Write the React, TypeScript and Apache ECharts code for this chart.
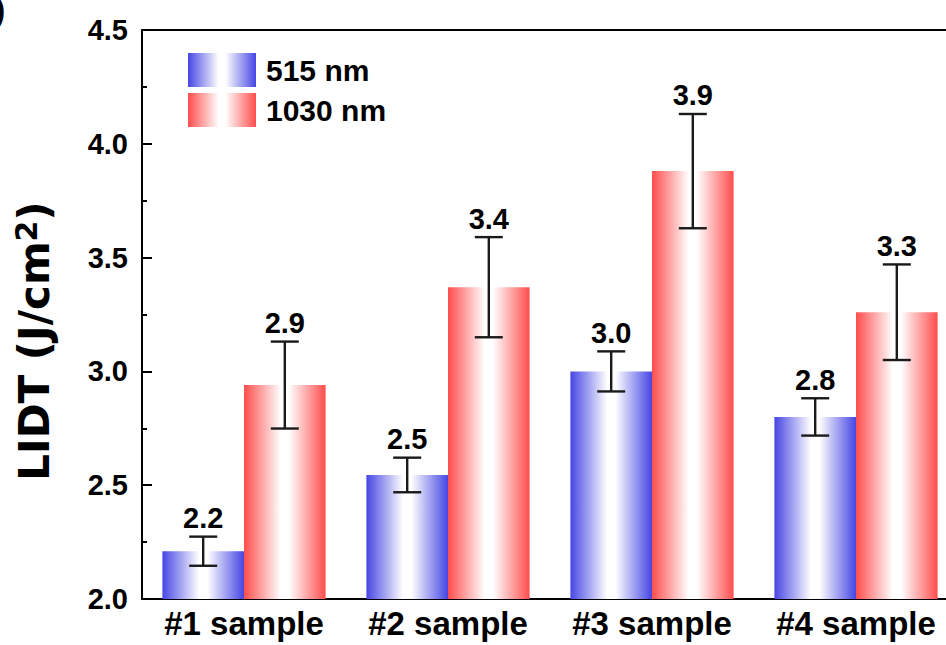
import React, { useEffect, useRef } from "react";
import * as echarts from "echarts";

const categories = ["#1 sample", "#2 sample", "#3 sample", "#4 sample"];
const lidt515 = [2.21, 2.545, 3.0, 2.8];
const err515 = [0.064, 0.076, 0.088, 0.082];
const lidt1030 = [2.94, 3.37, 3.88, 3.26];
const err1030 = [0.191, 0.22, 0.251, 0.21];
const seriesNames = ["515 nm", "1030 nm"];
const yTicks = { min: 2.0, max: 4.5, step: 0.5 };

const FONT = "'Liberation Sans', Arial, sans-serif";

const grad = (edge: string) =>
  new echarts.graphic.LinearGradient(0, 0, 1, 0, [
    { offset: 0, color: edge },
    { offset: 0.45, color: "#ffffff" },
    { offset: 0.55, color: "#ffffff" },
    { offset: 1, color: edge },
  ]);

const errSeries = (vals: number[], errs: number[], side: number) => ({
  type: "custom",
  xAxisIndex: 0,
  yAxisIndex: 0,
  z: 5,
  data: vals.map((v, i) => [i, v - errs[i], v + errs[i], side]),
  renderItem: (params: any, api: any) => {
    const ci = api.value(0);
    const low = api.value(1);
    const high = api.value(2);
    const s = api.value(3);
    const band = api.size([1, 0])[0];
    const top = api.coord([ci, high]);
    const bot = api.coord([ci, low]);
    const x = top[0] + s * band * 0.2;
    const cap = 14;
    const st = { stroke: "#1a1a1a", lineWidth: 2.4 };
    return {
      type: "group",
      children: [
        { type: "line", shape: { x1: x, y1: top[1], x2: x, y2: bot[1] }, style: st },
        { type: "line", shape: { x1: x - cap, y1: top[1], x2: x + cap, y2: top[1] }, style: st },
        { type: "line", shape: { x1: x - cap, y1: bot[1], x2: x + cap, y2: bot[1] }, style: st },
        {
          type: "text",
          x: x,
          y: top[1] - 4,
          style: {
            text: vals[params.dataIndex].toFixed(1),
            align: "center",
            verticalAlign: "bottom",
            fontSize: 29,
            fontWeight: "bold",
            fontFamily: FONT,
            fill: "#000",
          },
        },
      ],
    };
  },
});

export default function App() {
  const ref = useRef<HTMLDivElement>(null);
  useEffect(() => {
    if (!ref.current) return;
    const chart = echarts.init(ref.current, null, { renderer: "svg" });
    chart.setOption({
      animation: false,
      backgroundColor: "#fff",
      grid: { left: 142, top: 30, right: 22, bottom: 46 },
      legend: {
        data: seriesNames,
        orient: "vertical",
        left: 183,
        top: 48,
        itemWidth: 68,
        itemHeight: 34,
        itemGap: 6,
        icon: "rect",
        textStyle: { fontSize: 30, fontWeight: "bold", fontFamily: FONT, color: "#000", padding: [0, 0, 0, 5] },
      },
      xAxis: [
        {
          type: "category",
          data: categories,
          axisLine: { lineStyle: { color: "#000", width: 2 } },
          axisTick: { show: false },
          axisLabel: {
            interval: 0,
            hideOverlap: false,
            fontSize: 33,
            fontWeight: "bold",
            fontFamily: FONT,
            color: "#000",
            margin: 8,
          },
        },
        {
          type: "category",
          data: categories,
          position: "top",
          axisLine: { show: true, lineStyle: { color: "#000", width: 2 } },
          axisTick: { show: false },
          axisLabel: { show: false },
        },
      ],
      yAxis: {
        type: "value",
        min: yTicks.min,
        max: yTicks.max,
        interval: yTicks.step,
        axisLine: { show: true, lineStyle: { color: "#000", width: 2 } },
        axisTick: { show: true, inside: true, length: 10, lineStyle: { color: "#000", width: 2 } },
        minorTick: { show: true, splitNumber: 2, length: 5, lineStyle: { color: "#000", width: 2 } },
        splitLine: { show: false },
        axisLabel: {
          fontSize: 29,
          fontWeight: "bold",
          fontFamily: FONT,
          color: "#000",
          margin: 14,
          formatter: (v: number) => v.toFixed(1),
        },
      },
      series: [
        {
          name: seriesNames[0],
          type: "bar",
          data: lidt515,
          barWidth: "40%",
          barGap: "0%",
          itemStyle: { color: grad("#4646e4") },
        },
        {
          name: seriesNames[1],
          type: "bar",
          data: lidt1030,
          barWidth: "40%",
          barGap: "0%",
          itemStyle: { color: grad("#ff4d4d") },
        },
        errSeries(lidt515, err515, -1),
        errSeries(lidt1030, err1030, 1),
      ],
      graphic: [
        {
          type: "text",
          x: 33,
          y: 341,
          rotation: Math.PI / 2,
          style: {
            text: "{a|LIDT (J/cm}{s|2}{a|)}",
            align: "center",
            verticalAlign: "middle",
            fill: "#000",
            rich: {
              a: { fontSize: 42, fontWeight: "bold", fontFamily: "'DejaVu Sans', sans-serif", verticalAlign: "bottom", lineHeight: 44 },
              s: { fontSize: 30, fontWeight: "bold", fontFamily: "'DejaVu Sans', sans-serif", verticalAlign: "top", lineHeight: 32, padding: [0, 0, 18, 0] },
            },
          },
        },
        {
          type: "text",
          x: -6,
          y: -8,
          style: { text: ")", fontSize: 34, fontWeight: "bold", fontFamily: FONT, fill: "#000" },
        },
      ],
    });
    return () => chart.dispose();
  }, []);
  return (
    <div style={{ position: "fixed", left: 0, top: 0, width: 946, height: 645, overflow: "hidden" }}>
      <div ref={ref} style={{ width: 980, height: 645 }} />
    </div>
  );
}
